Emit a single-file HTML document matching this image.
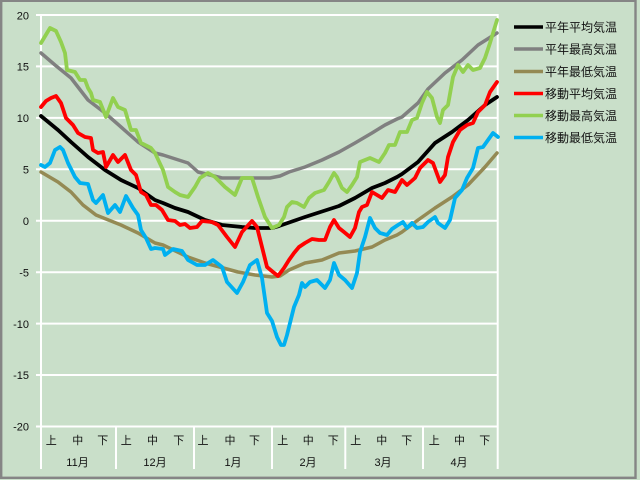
<!DOCTYPE html>
<html><head><meta charset="utf-8"><style>
html,body{margin:0;padding:0;background:#c9dfc9;}
svg{display:block;}
text{font-family:"Liberation Sans","Noto Sans CJK JP",sans-serif;fill:#111;}
</style></head><body>
<svg width="640" height="480" viewBox="0 0 640 480" xmlns="http://www.w3.org/2000/svg">
<rect x="0" y="0" width="640" height="480" fill="#c9dfc9"/>
<rect x="1.2" y="0.8" width="634.3" height="477" fill="#c9dfc9" stroke="#858585" stroke-width="2.4"/>
<g stroke="#ffffff" stroke-width="2" fill="none">
<line x1="36" y1="15" x2="498.5" y2="15"/>
<line x1="36" y1="66.4" x2="498.5" y2="66.4"/>
<line x1="36" y1="117.9" x2="498.5" y2="117.9"/>
<line x1="36" y1="169.3" x2="498.5" y2="169.3"/>
<line x1="36" y1="220.8" x2="498.5" y2="220.8"/>
<line x1="36" y1="272.2" x2="498.5" y2="272.2"/>
<line x1="36" y1="323.6" x2="498.5" y2="323.6"/>
<line x1="36" y1="375" x2="498.5" y2="375"/>
<line x1="36" y1="426.5" x2="498.5" y2="426.5"/>
<line x1="41" y1="14" x2="41" y2="469"/>
<line x1="497.7" y1="14" x2="497.7" y2="469"/>
<line x1="116" y1="426.5" x2="116" y2="469"/>
<line x1="194" y1="426.5" x2="194" y2="469"/>
<line x1="272" y1="426.5" x2="272" y2="469"/>
<line x1="345.3" y1="426.5" x2="345.3" y2="469"/>
<line x1="423" y1="426.5" x2="423" y2="469"/>
</g>
<g font-size="11" text-anchor="end">
<text x="29" y="19.5">20</text>
<text x="29" y="70.5">15</text>
<text x="29" y="122">10</text>
<text x="29" y="173.5">5</text>
<text x="29" y="225">0</text>
<text x="29" y="276.5">-5</text>
<text x="29" y="328">-10</text>
<text x="29" y="379">-15</text>
<text x="29" y="430.5">-20</text>
</g>
<g font-size="11" text-anchor="middle">
<text x="51.3" y="444">上</text><text x="77.7" y="444">中</text><text x="102.7" y="444">下</text>
<text x="126.3" y="444">上</text><text x="152.5" y="444">中</text><text x="178.8" y="444">下</text>
<text x="203" y="444">上</text><text x="230" y="444">中</text><text x="254.5" y="444">下</text>
<text x="282.8" y="444">上</text><text x="308.3" y="444">中</text><text x="333.3" y="444">下</text>
<text x="355.8" y="444">上</text><text x="381.7" y="444">中</text><text x="406.7" y="444">下</text>
<text x="434.2" y="444">上</text><text x="459.5" y="444">中</text><text x="484.7" y="444">下</text>
<text x="77.5" y="466">11月</text>
<text x="155" y="466">12月</text>
<text x="233" y="466">1月</text>
<text x="308" y="466">2月</text>
<text x="383" y="466">3月</text>
<text x="459" y="466">4月</text>
</g>
<g fill="none" stroke-linejoin="round" stroke-linecap="round">
<polyline stroke="#000000" stroke-width="3.8" points="41,116 58,130 71,142 88,157 105,170 121,180 138,188 155,200 163,203 175,208 188,212 205,220 222,225 242,227 255,228 272,228 279,226 305,217 339,206 355,198 372,188 385,183 397,177 402,174 418,162 435,143 452,132 468,120 485,105 497,97"/>
<polyline stroke="#808080" stroke-width="3.5" points="41,53 55,65 71,78 88,100 105,113 121,127 138,142 155,153 163,155 188,163 198,172 222,178 240,178 270,178 280,176 289,172 305,167 322,160 339,152 355,143 372,133 385,125 397,119 402,117 418,103 428,89 445,73 462,60 478,45 497,33"/>
<polyline stroke="#948a54" stroke-width="3.5" points="41,172 58,182 71,192 83,205 96,215 121,225 138,233 155,243 163,245 188,257 205,263 238,272 255,275 272,277 280,276 289,270 305,263 322,260 339,253 355,251 372,247 385,240 397,235 402,232 418,220 435,208 452,197 468,185 485,167 497,153"/>
<polyline stroke="#ff0000" stroke-width="3.8" points="41,107 46,101 51,98 56,96 61,103 66,118 73,125 78,133 85,137 91,138 93,150 98,153 103,152 106,167 113,155 118,162 125,155 131,170 136,175 141,192 146,195 151,205 156,205 162,210 168,220 175,221 180,225 185,224 190,228 197,227 202,221 212,222 218,225 227,237 235,247 242,232 252,221 257,227 262,247 267,267 273,272 278,276 284,268 289,260 294,253 299,247 305,243 312,239 319,240 325,240 330,227 334,220 339,228 344,232 350,237 355,228 359,212 362,207 367,205 372,192 377,195 382,198 388,190 395,192 402,180 407,185 415,178 420,168 428,160 433,163 440,182 445,175 448,157 453,142 460,130 467,125 473,123 478,112 485,105 490,92 497,82"/>
<polyline stroke="#92d050" stroke-width="3.8" points="41,43 50,28 56,31 61,42 65,53 67,70 75,72 80,80 85,80 88,88 91,93 93,100 100,102 106,117 113,98 118,107 125,110 131,130 136,130 141,143 151,148 155,153 163,170 168,187 175,192 180,195 188,197 195,187 200,178 208,173 215,177 225,187 235,195 242,178 252,178 258,197 265,217 272,228 279,225 284,217 287,207 292,202 297,203 304,207 309,198 315,193 324,190 329,182 334,173 337,177 342,188 347,192 352,185 357,177 360,162 365,160 370,158 379,162 385,153 389,145 395,145 400,132 407,132 412,120 417,118 422,103 427,92 432,98 437,117 440,123 443,110 448,105 453,77 458,65 463,72 468,65 473,70 480,68 485,58 490,43 497,20"/>
<polyline stroke="#00b0f0" stroke-width="3.8" points="41,165 45,167 50,163 55,150 60,147 63,150 68,163 75,177 80,183 88,184 93,200 96,203 103,195 108,213 115,205 120,212 126,196 133,208 138,215 141,230 146,238 151,249 155,248 163,249 165,255 173,249 182,251 188,260 197,265 205,265 213,260 222,267 227,282 237,293 243,282 250,265 257,260 262,278 267,313 272,321 277,337 281,345 284,345 287,335 290,323 294,307 299,295 302,283 305,287 310,282 317,280 325,288 330,280 334,263 339,275 345,280 352,288 357,273 360,252 365,237 370,218 375,228 380,233 387,235 392,229 398,225 403,222 407,228 412,223 417,228 423,227 428,222 435,217 438,223 445,228 450,220 455,198 462,190 467,178 473,168 478,148 483,147 488,140 493,133 498,137"/>
</g>
<g stroke-width="3.5">
<line x1="514" y1="27" x2="543" y2="27" stroke="#000000"/>
<line x1="514" y1="49" x2="543" y2="49" stroke="#808080"/>
<line x1="514" y1="71.5" x2="543" y2="71.5" stroke="#948a54"/>
<line x1="514" y1="93.5" x2="543" y2="93.5" stroke="#ff0000"/>
<line x1="514" y1="115.5" x2="543" y2="115.5" stroke="#92d050"/>
<line x1="514" y1="137.5" x2="543" y2="137.5" stroke="#00b0f0"/>
</g>
<g font-size="12">
<text x="545" y="31.5">平年平均気温</text>
<text x="545" y="53.5">平年最高気温</text>
<text x="545" y="76">平年最低気温</text>
<text x="545" y="98">移動平均気温</text>
<text x="545" y="120">移動最高気温</text>
<text x="545" y="142">移動最低気温</text>
</g>
</svg>
</body></html>
